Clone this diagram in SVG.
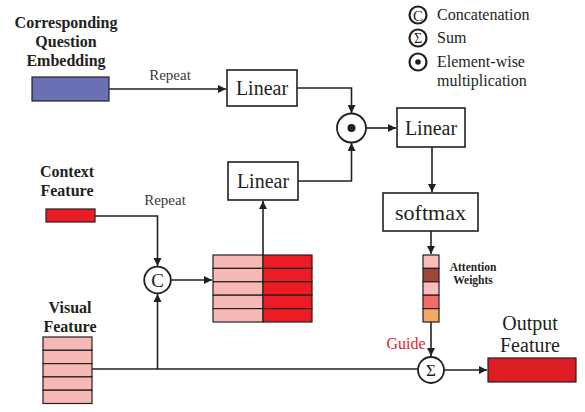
<svg xmlns="http://www.w3.org/2000/svg" width="585" height="412" viewBox="0 0 585 412">
  <defs>
    <marker id="arr" viewBox="0 0 10 10" refX="10" refY="5" markerWidth="8" markerHeight="8" markerUnits="userSpaceOnUse" orient="auto">
      <path d="M0,0 L10,5 L0,10 z" fill="#231f20"/>
    </marker>
  </defs>
  <style>
    .ln { fill: none; stroke: #231f20; stroke-width: 1.6; }
    .box { fill: #fff; stroke: #231f20; stroke-width: 1.6; }
    .cell { stroke: #231f20; stroke-width: 1.2; }
    .op { fill: #fff; stroke: #231f20; stroke-width: 1.8; }
    .lg { fill: #fff; stroke: #231f20; stroke-width: 2.2; }
    .lbl { font-family: "Liberation Serif", "Times New Roman", serif; font-weight: bold; font-size: 16px; fill: #231f20; text-anchor: middle; }
    .small { font-size: 11.5px; }
    .t { font-family: "Liberation Serif", "Times New Roman", serif; fill: #231f20; }
    .rep { fill: #3a3a3a; }
    .guide { fill: #e8202a; }
    .pink { fill: #f7b9b6; }
    .red { fill: #ec1c24; }
  </style>

  <rect width="585" height="412" fill="#fff"/>

  <!-- legend -->
  <g id="legend">
    <circle cx="418" cy="15" r="8.5" class="lg"/>
    <text x="418" y="20.5" class="t" font-size="15" text-anchor="middle">C</text>
    <text x="437" y="20" class="t" font-size="16">Concatenation</text>
    <circle cx="418" cy="38" r="8.5" class="lg"/>
    <text x="418" y="43" class="t" font-size="14" text-anchor="middle">Σ</text>
    <text x="437" y="43" class="t" font-size="16">Sum</text>
    <circle cx="418" cy="62" r="8.5" class="lg"/>
    <circle cx="418" cy="62" r="2.8" fill="#231f20"/>
    <text x="437" y="67" class="t" font-size="16">Element-wise</text>
    <text x="437" y="86" class="t" font-size="16">multiplication</text>
  </g>

  <!-- connectors -->
  <g id="connectors">
    <path d="M109,89 H226" class="ln" marker-end="url(#arr)"/>
    <path d="M297,88 H351.5 V113" class="ln" marker-end="url(#arr)"/>
    <path d="M298,181 H351.5 V143" class="ln" marker-end="url(#arr)"/>
    <path d="M366,128 H396" class="ln" marker-end="url(#arr)"/>
    <path d="M432,147 V192" class="ln" marker-end="url(#arr)"/>
    <path d="M431,231 V254" class="ln" marker-end="url(#arr)"/>
    <path d="M431,322 V356" class="ln" marker-end="url(#arr)"/>
    <path d="M95,216 H157.5 V266" class="ln" marker-end="url(#arr)"/>
    <path d="M92,369 H418" class="ln"/>
    <path d="M157.5,369 V294" class="ln" marker-end="url(#arr)"/>
    <path d="M171,280 H212" class="ln" marker-end="url(#arr)"/>
    <path d="M263,255 V201" class="ln" marker-end="url(#arr)"/>
    <path d="M444,370 H487" class="ln" marker-end="url(#arr)"/>
    <text x="170" y="80" class="t rep" font-size="15" text-anchor="middle">Repeat</text>
    <text x="165" y="205" class="t rep" font-size="15" text-anchor="middle">Repeat</text>
    <text x="406" y="349" class="t guide" font-size="16" text-anchor="middle">Guide</text>
  </g>

  <!-- question embedding -->
  <g id="question">
    <text x="66" y="28" class="lbl">Corresponding</text>
    <text x="66" y="47" class="lbl">Question</text>
    <text x="66" y="66" class="lbl">Embedding</text>
    <rect x="32" y="77" width="77" height="24" fill="#6b6fb4" stroke="#231f20" stroke-width="1.2"/>
  </g>

  <!-- context feature -->
  <g id="context">
    <text x="67" y="177" class="lbl">Context</text>
    <text x="67" y="196" class="lbl">Feature</text>
    <rect x="46" y="209" width="49" height="13" class="cell red"/>
  </g>

  <!-- visual feature -->
  <g id="visual">
    <text x="70" y="313" class="lbl">Visual</text>
    <text x="70" y="332" class="lbl">Feature</text>
    <rect x="43" y="337" width="49" height="13.3" class="cell pink"/>
    <rect x="43" y="350.3" width="49" height="13.3" class="cell pink"/>
    <rect x="43" y="363.6" width="49" height="13.3" class="cell pink"/>
    <rect x="43" y="376.9" width="49" height="13.3" class="cell pink"/>
    <rect x="43" y="390.2" width="49" height="13.3" class="cell pink"/>
  </g>

  <!-- linear on question -->
  <g id="linear1">
    <rect x="227" y="70" width="70" height="36" class="box"/>
    <text x="262" y="95" class="t" font-size="20" text-anchor="middle">Linear</text>
  </g>

  <!-- linear on concatenated feature -->
  <g id="linear3">
    <rect x="228" y="162" width="70" height="38" class="box"/>
    <text x="263" y="188" class="t" font-size="20" text-anchor="middle">Linear</text>
  </g>

  <!-- element-wise product -->
  <g id="mul">
    <circle cx="351.5" cy="128" r="14.5" class="op"/>
    <circle cx="351.5" cy="128" r="4" fill="#231f20"/>
  </g>

  <!-- linear after product -->
  <g id="linear2">
    <rect x="397" y="108" width="68" height="39" class="box"/>
    <text x="431" y="135" class="t" font-size="20" text-anchor="middle">Linear</text>
  </g>

  <!-- softmax -->
  <g id="softmax">
    <rect x="383" y="193" width="95" height="38" class="box"/>
    <text x="430.5" y="220" class="t" font-size="22" text-anchor="middle">softmax</text>
  </g>

  <!-- attention weights -->
  <g id="weights">
    <rect x="423" y="255" width="16" height="13.4" class="cell" fill="#f8bcbb"/>
    <rect x="423" y="268.4" width="16" height="13.4" class="cell" fill="#a0463a"/>
    <rect x="423" y="281.8" width="16" height="13.4" class="cell" fill="#f8bcbb"/>
    <rect x="423" y="295.2" width="16" height="13.4" class="cell" fill="#ef6e66"/>
    <rect x="423" y="308.6" width="16" height="13.4" class="cell" fill="#f6a961"/>
    <text x="473" y="271" class="lbl small">Attention</text>
    <text x="473" y="284" class="lbl small">Weights</text>
  </g>

  <!-- concatenation -->
  <g id="concat">
    <circle cx="157.5" cy="280" r="13.3" class="op"/>
    <text x="157.5" y="287" class="t" font-size="19" text-anchor="middle">C</text>
  </g>

  <!-- concatenated feature -->
  <g id="joined">
    <rect x="213" y="255" width="50" height="13.4" class="cell pink"/>
    <rect x="213" y="268.4" width="50" height="13.4" class="cell pink"/>
    <rect x="213" y="281.8" width="50" height="13.4" class="cell pink"/>
    <rect x="213" y="295.2" width="50" height="13.4" class="cell pink"/>
    <rect x="213" y="308.6" width="50" height="13.4" class="cell pink"/>
    <rect x="263" y="255" width="49" height="13.4" class="cell red"/>
    <rect x="263" y="268.4" width="49" height="13.4" class="cell red"/>
    <rect x="263" y="281.8" width="49" height="13.4" class="cell red"/>
    <rect x="263" y="295.2" width="49" height="13.4" class="cell red"/>
    <rect x="263" y="308.6" width="49" height="13.4" class="cell red"/>
  </g>

  <!-- sum -->
  <g id="sum">
    <circle cx="431" cy="370" r="13" class="op"/>
    <text x="431" y="376" class="t" font-size="17" text-anchor="middle">Σ</text>
  </g>

  <!-- output -->
  <g id="output">
    <text x="530" y="330" class="t" font-size="20" text-anchor="middle">Output</text>
    <text x="530" y="352" class="t" font-size="20" text-anchor="middle">Feature</text>
    <rect x="488" y="358" width="88" height="24" fill="#dd1c24" stroke="#231f20" stroke-width="1.2"/>
  </g>
</svg>
